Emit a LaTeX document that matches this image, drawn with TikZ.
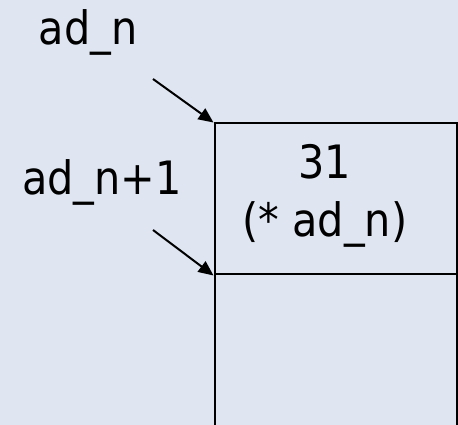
\documentclass[tikz,border=0pt]{standalone}
\usepackage{xcolor}
\usepackage{fontspec}
\setmainfont{DejaVu Sans Condensed}
\usetikzlibrary{arrows.meta}
\definecolor{MemBack}{HTML}{DFE6F1}
\definecolor{MemLine}{HTML}{000000}

\tikzset{
  memcell/.style={draw=MemLine,line width=2pt,rectangle,anchor=south west,inner sep=0pt},
  addrlabel/.style={anchor=base,font=\fontsize{46}{56}\selectfont},
  addrarrow/.style={draw=MemLine,line width=2pt,-{Triangle[length=15pt,width=13pt]}}
}

\begin{document}
\begin{tikzpicture}[x=1pt,y=1pt]
\fill[MemBack] (0,0) rectangle (458,425);
\path[use as bounding box] (0,0) rectangle (458,425);
\node[memcell,minimum width=242.5pt,minimum height=151pt] (cellA) at (213.5,149.5) {};
\node[memcell,minimum width=242.5pt,minimum height=160pt] (cellB) at (213.5,-10.5) {};
\node[align=center,font=\fontsize{46}{58}\selectfont,inner sep=0pt] (cellAtext) at (325,229) {31\\(* ad\_n)};
\node[addrlabel] (adn) at (88,380) {ad\_n};
\node[addrlabel] (adnext) at (102,230) {ad\_n+1};
\coordinate (adnfrom) at (153,346);
\coordinate (adnextfrom) at (153,195);
\draw[addrarrow] (adnfrom) -- (cellA.north west);
\draw[addrarrow] (adnextfrom) -- (cellA.south west);
\end{tikzpicture}
\end{document}
